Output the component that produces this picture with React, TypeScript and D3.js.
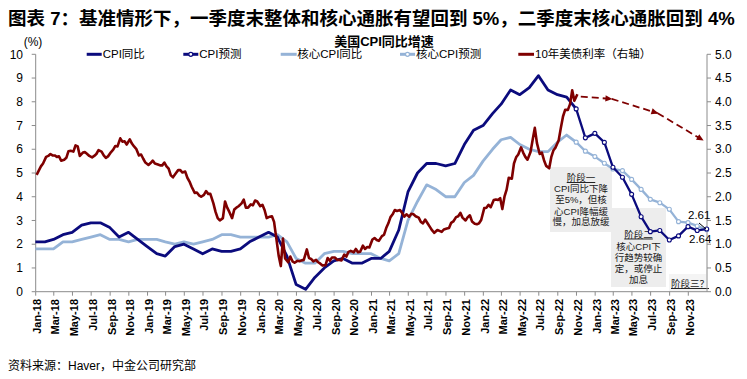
import React from 'react';
import * as d3 from 'd3';

const W = 747;
const H = 379;
const FONT = "'Liberation Sans', Arial, 'Noto Sans CJK SC', sans-serif";

const title = '图表 7：基准情形下，一季度末整体和核心通胀有望回到 5%，二季度末核心通胀回到 4%';
const subtitle = '美国CPI同比增速';
const unitLabel = '(%)';
const source = '资料来源：Haver，中金公司研究部';
const legendNames = ['CPI同比', 'CPI预测', '核心CPI同比', '核心CPI预测', '10年美债利率（右轴）'];

const xTickLabels = [
  'Jan-18', 'Mar-18', 'May-18', 'Jul-18', 'Sep-18', 'Nov-18',
  'Jan-19', 'Mar-19', 'May-19', 'Jul-19', 'Sep-19', 'Nov-19',
  'Jan-20', 'Mar-20', 'May-20', 'Jul-20', 'Sep-20', 'Nov-20',
  'Jan-21', 'Mar-21', 'May-21', 'Jul-21', 'Sep-21', 'Nov-21',
  'Jan-22', 'Mar-22', 'May-22', 'Jul-22', 'Sep-22', 'Nov-22',
  'Jan-23', 'Mar-23', 'May-23', 'Jul-23', 'Sep-23', 'Nov-23',
];
const leftTicks = [0, 1, 2, 3, 4, 5, 6, 7, 8, 9, 10];
const rightTicks = [0, 0.5, 1, 1.5, 2, 2.5, 3, 3.5, 4, 4.5, 5];

// Monthly YoY, Dec-17 .. Oct-22
const actualStart = [2017, 11];
const cpiYoY = [
  2.1,
  2.1, 2.2, 2.4, 2.5, 2.8, 2.9, 2.9, 2.7, 2.3, 2.5, 2.2, 1.9,
  1.6, 1.5, 1.9, 2.0, 1.8, 1.6, 1.8, 1.7, 1.7, 1.8, 2.1, 2.3,
  2.5, 2.3, 1.5, 0.3, 0.1, 0.6, 1.0, 1.3, 1.4, 1.2, 1.2, 1.4,
  1.4, 1.7, 2.6, 4.2, 5.0, 5.4, 5.4, 5.3, 5.4, 6.2, 6.8, 7.0,
  7.5, 7.9, 8.5, 8.3, 8.6, 9.1, 8.5, 8.3, 8.2, 7.7,
];
const coreYoY = [
  1.8,
  1.8, 1.8, 2.1, 2.1, 2.2, 2.3, 2.4, 2.2, 2.2, 2.1, 2.2, 2.2,
  2.2, 2.1, 2.0, 2.1, 2.0, 2.1, 2.2, 2.4, 2.4, 2.3, 2.3, 2.3,
  2.3, 2.4, 2.1, 1.4, 1.2, 1.2, 1.6, 1.7, 1.7, 1.6, 1.6, 1.6,
  1.4, 1.3, 1.6, 3.0, 3.8, 4.5, 4.3, 4.0, 4.0, 4.6, 4.9, 5.5,
  6.0, 6.4, 6.5, 6.2, 6.0, 5.9, 5.9, 6.3, 6.6, 6.3,
];

// Forecasts, Oct-22 .. Dec-23
const forecastStart = [2022, 9];
const cpiForecast = [7.7, 6.48, 6.67, 6.29, 5.24, 4.82, 4.1, 3.16, 2.53, 2.58, 2.18, 2.35, 2.74, 2.58, 2.64];
const coreForecast = [6.3, 5.92, 5.69, 5.41, 5.17, 5.1, 4.73, 4.31, 3.89, 3.75, 3.47, 2.95, 2.91, 2.77, 2.61];

// 10Y UST yield, weekly (4 per month)
const ust2018 = [
  2.46, 2.55, 2.64, 2.7, 2.84, 2.86, 2.9, 2.87, 2.87, 2.84, 2.85, 2.76,
  2.78, 2.82, 2.96, 2.97, 2.95, 3.08, 3.06, 2.86, 2.93, 2.94, 2.9, 2.86,
  2.83, 2.86, 2.9, 2.98, 2.95, 2.87, 2.82, 2.85, 2.94, 2.99, 3.07, 3.06,
  3.23, 3.16, 3.17, 3.1, 3.21, 3.12, 3.06, 3.01, 2.87, 2.89, 2.8, 2.72,
];
const ust2019 = [
  2.67, 2.71, 2.76, 2.7, 2.68, 2.66, 2.66, 2.72, 2.64, 2.59, 2.45, 2.41,
  2.5, 2.56, 2.56, 2.51, 2.53, 2.4, 2.32, 2.21, 2.08, 2.09, 2.03, 2.0,
  2.04, 2.12, 2.06, 2.06, 1.86, 1.68, 1.55, 1.5, 1.55, 1.9, 1.77, 1.68,
  1.55, 1.73, 1.77, 1.8, 1.86, 1.94, 1.77, 1.77, 1.84, 1.82, 1.92, 1.9,
];
const ust2020 = [
  1.8, 1.83, 1.72, 1.55, 1.58, 1.59, 1.47, 1.14, 0.76, 0.54, 1.12, 0.7,
  0.62, 0.74, 0.64, 0.61, 0.65, 0.64, 0.66, 0.67, 0.89, 0.71, 0.69, 0.64,
  0.67, 0.62, 0.59, 0.55, 0.56, 0.71, 0.65, 0.72, 0.72, 0.67, 0.67, 0.66,
  0.78, 0.74, 0.84, 0.86, 0.83, 0.9, 0.83, 0.84, 0.97, 0.9, 0.94, 0.93,
];
const ust2021 = [
  1.1, 1.13, 1.09, 1.07, 1.17, 1.2, 1.34, 1.44, 1.57, 1.63, 1.72, 1.7,
  1.72, 1.66, 1.58, 1.63, 1.58, 1.64, 1.63, 1.59, 1.56, 1.47, 1.44, 1.52,
  1.43, 1.36, 1.29, 1.24, 1.3, 1.28, 1.26, 1.31, 1.33, 1.34, 1.45, 1.48,
  1.57, 1.59, 1.66, 1.56, 1.5, 1.57, 1.61, 1.48, 1.43, 1.42, 1.44, 1.51,
];
const ust2022 = [
  1.76, 1.77, 1.83, 1.78, 1.93, 1.94, 1.93, 1.97, 1.74, 2.0, 2.15, 2.4,
  2.38, 2.7, 2.83, 2.89, 3.04, 2.93, 2.84, 2.78, 2.94, 3.2, 3.45, 3.13,
  2.9, 2.93, 2.77, 2.65, 2.6, 2.84, 2.98, 3.04, 3.19, 3.45, 3.69, 3.83,
  3.83, 3.95, 4.24, 4.02, 4.16,
];
const ustYears = [2018, 2019, 2020, 2021, 2022];
const ustSeries = [ust2018, ust2019, ust2020, ust2021, ust2022];
const ustForecastDates = ['2022-11-15', '2023-02-24', '2023-07-24', '2023-12-19'];
const ustForecast = [4.11, 4.06, 3.76, 3.19];

const stage1 = ['阶段一', 'CPI同比下降', '至5%，但核', '心CPI降幅缓', '慢，加息放缓'];
const stage2 = ['阶段二', '核心CPI下', '行趋势较确', '定，或停止', '加息'];
const stage3 = '阶段三？';
const endLabels = ['2.61', '2.64'];

const C_CPI = '#0B0B7D';
const C_CORE = '#95B3D7';
const C_UST = '#7F0000';
const C_AXIS = '#8C8C8C';

const x = d3.scaleTime().domain([new Date(2018, 0, 1), new Date(2024, 0, 1)]).range([35.7, 707]);
const yL = d3.scaleLinear().domain([0, 10]).range([291.7, 54.3]);
const yR = d3.scaleLinear().domain([0, 5]).range([291.7, 54.3]);

type Pt = [Date, number];
const monthly = (start: number[], vals: number[]): Pt[] =>
  vals.map((v, i) => [new Date(start[0], start[1] + i + 1, 0), v]);

const cpiPts = monthly(actualStart, cpiYoY);
const corePts = monthly(actualStart, coreYoY);
const cpiFPts = monthly(forecastStart, cpiForecast);
const coreFPts = monthly(forecastStart, coreForecast);
const ustPts: Pt[] = [];
ustSeries.forEach((arr, yi) => {
  arr.forEach((v, j) => {
    ustPts.push([new Date(ustYears[yi], Math.floor(j / 4), 4 + 7 * (j % 4)), v]);
  });
});
const ustFPts: Pt[] = ustForecastDates.map((d, i) => [d3.timeParse('%Y-%m-%d')(d) as Date, ustForecast[i]]);

const lineL = d3.line<Pt>().x((d) => x(d[0])).y((d) => yL(d[1]));
const lineR = d3.line<Pt>().x((d) => x(d[0])).y((d) => yR(d[1]));

export default function App() {
  const tickDates = xTickLabels.map((_, i) => new Date(2018, 2 * i, 1));
  const legendY = 54.3;
  const legendItems = [
    { x0: 86.7, x1: 101.7, tx: 102.7, color: C_CPI, marker: false, w: 3 },
    { x0: 183.3, x1: 198.3, tx: 199.3, color: C_CPI, marker: true, w: 3 },
    { x0: 280.7, x1: 296.7, tx: 297.2, color: C_CORE, marker: false, w: 3 },
    { x0: 400, x1: 415, tx: 416, color: C_CORE, marker: true, w: 3 },
    { x0: 518.3, x1: 534, tx: 535, color: C_UST, marker: false, w: 3 },
  ];
  const boxText = { fontSize: 9.5, fill: '#1a1a1a' };
  return (
    <svg width={W} height={H} style={{ position: 'absolute', left: 0, top: 0, background: '#fff' }} fontFamily={FONT}>
      <defs>
        <marker id="arr" viewBox="0 0 10 10" refX="9" refY="5" markerWidth="8" markerHeight="7" orient="auto" markerUnits="userSpaceOnUse">
          <path d="M0,0.5 L10,5 L0,9.5 z" fill={C_UST} />
        </marker>
      </defs>
      <rect width={W} height={H} fill="#fff" />
      <text x={8} y={25} fontSize={18.5} fontWeight="bold" fill="#000">{title}</text>
      <text x={33} y={46} fontSize={12} textAnchor="middle" fill="#000">{unitLabel}</text>
      <text x={384} y={46} fontSize={13} fontWeight="bold" textAnchor="middle" fill="#000">{subtitle}</text>

      {/* legend */}
      {legendItems.map((it, i) => (
        <g key={i}>
          <line x1={it.x0} x2={it.x1} y1={legendY} y2={legendY} stroke={it.color} strokeWidth={it.w} />
          {it.marker && <circle cx={(it.x0 + it.x1) / 2} cy={legendY} r={2} fill="#fff" stroke={it.color} strokeWidth={1.2} />}
          <text x={it.tx} y={legendY + 4} fontSize={11.5} fill="#000">{legendNames[i]}</text>
        </g>
      ))}

      {/* annotation boxes (behind lines) */}
      <rect x={550} y={167} width={62} height={65} fill="#EDEDED" />
      <rect x={611} y={208} width={55} height={79} fill="#EDEDED" />
      <rect x={669} y={274} width={37} height={17} fill="#F4F4F4" />
      {stage1.map((t, i) => (
        <text key={i} x={581} y={[181, 191.5, 203, 214.5, 225][i]} textAnchor="middle" {...boxText}
          style={i === 0 ? { textDecoration: 'underline' } : undefined}>{t}</text>
      ))}
      {stage2.map((t, i) => (
        <text key={i} x={638.5} y={[237.5, 249.5, 261, 272, 283][i]} textAnchor="middle" {...boxText}
          style={i === 0 ? { textDecoration: 'underline' } : undefined}>{t}</text>
      ))}
      <text x={671} y={287} {...boxText} style={{ textDecoration: 'underline' }}>{stage3}</text>

      {/* axes */}
      <line x1={35.7} x2={35.7} y1={54.3} y2={291.7} stroke={C_AXIS} />
      <line x1={707} x2={707} y1={54.3} y2={291.7} stroke={C_AXIS} />
      <line x1={35.7} x2={707} y1={291.7} y2={291.7} stroke={C_AXIS} />
      {leftTicks.map((t) => (
        <g key={t}>
          <line x1={31.7} x2={35.7} y1={yL(t)} y2={yL(t)} stroke={C_AXIS} />
          <text x={23} y={yL(t) + 4.2} fontSize={12} textAnchor="end" fill="#000">{t}</text>
        </g>
      ))}
      {rightTicks.map((t) => (
        <g key={t}>
          <line x1={707} x2={711} y1={yR(t)} y2={yR(t)} stroke={C_AXIS} />
          <text x={715} y={yR(t) + 4.2} fontSize={12} fill="#000">{t.toFixed(1)}</text>
        </g>
      ))}
      {tickDates.map((d, i) => (
        <g key={i}>
          <line x1={x(d)} x2={x(d)} y1={291.7} y2={295.7} stroke={C_AXIS} />
          <text transform={`translate(${x(d) + 5.5},299) rotate(-90)`} fontSize={11} fontWeight="bold" textAnchor="end" fill="#000">
            {xTickLabels[i]}
          </text>
        </g>
      ))}

      {/* series */}
      <path d={lineL(corePts) || ''} fill="none" stroke={C_CORE} strokeWidth={2.8} strokeLinejoin="round" />
      <path d={lineL(coreFPts) || ''} fill="none" stroke={C_CORE} strokeWidth={2.3} strokeLinejoin="round" />
      {coreFPts.map((p, i) => (
        <circle key={i} cx={x(p[0])} cy={yL(p[1])} r={2} fill="#fff" stroke={C_CORE} strokeWidth={1.1} />
      ))}
      <path d={lineL(cpiPts) || ''} fill="none" stroke={C_CPI} strokeWidth={2.8} strokeLinejoin="round" />
      <path d={lineL(cpiFPts) || ''} fill="none" stroke={C_CPI} strokeWidth={2.3} strokeLinejoin="round" />
      {cpiFPts.map((p, i) => (
        <circle key={i} cx={x(p[0])} cy={yL(p[1])} r={2} fill="#fff" stroke={C_CPI} strokeWidth={1.1} />
      ))}
      <path d={lineR(ustPts) || ''} fill="none" stroke={C_UST} strokeWidth={2.6} strokeLinejoin="round" />
      {ustFPts.slice(1).map((p, i) => (
        <path key={i} d={lineR([ustFPts[i], p]) || ''} fill="none" stroke={C_UST} strokeWidth={1.8}
          strokeDasharray="7,4" markerEnd="url(#arr)" />
      ))}

      {/* end labels */}
      <text x={688} y={219} fontSize={11.5} fill="#000">{endLabels[0]}</text>
      <line x1={699} y1={223} x2={706} y2={229} stroke="#000" strokeWidth={1} />
      <text x={689} y={243} fontSize={11.5} fill="#000">{endLabels[1]}</text>

      <text x={8} y={370} fontSize={12} fill="#000">{source}</text>
    </svg>
  );
}
